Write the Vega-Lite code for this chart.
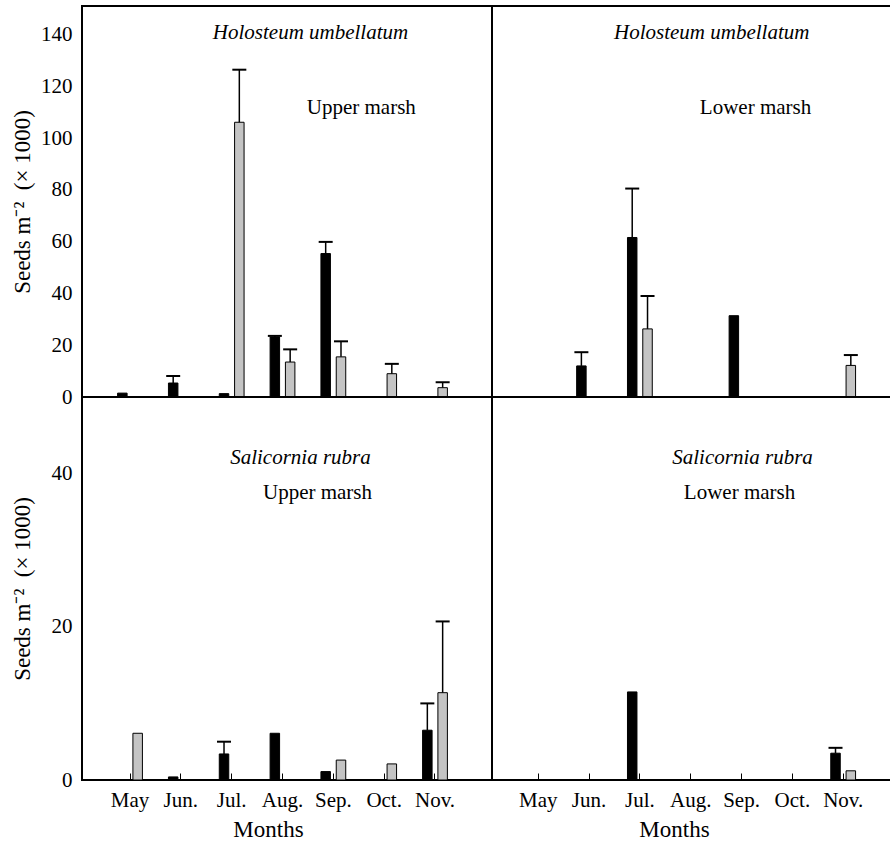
{
  "$schema": "https://vega.github.io/schema/vega-lite/v6.json",
  "padding": {"left": 10, "top": 5, "right": 0, "bottom": 0},
  "background": "white",
  "config": {
    "font": "Liberation Serif",
    "view": {"stroke": "black", "strokeWidth": 2},
    "axis": {"labelFont": "Liberation Serif", "titleFont": "Liberation Serif", "labelColor": "black", "titleColor": "black", "grid": false, "domain": false, "labelFontSize": 21, "titleFontSize": 23, "titleFontWeight": "normal"},
    "text": {"font": "Liberation Serif", "fontSize": 21, "color": "black", "baseline": "middle"}
  },
  "datasets": {
    "seeds": [
      {"species": "Holosteum umbellatum", "marsh": "Upper marsh", "month": "May", "group": "a", "mean": 1.5},
      {"species": "Holosteum umbellatum", "marsh": "Upper marsh", "month": "Jun.", "group": "a", "mean": 5.4, "upper": 8.1},
      {"species": "Holosteum umbellatum", "marsh": "Upper marsh", "month": "Jul.", "group": "a", "mean": 1.3},
      {"species": "Holosteum umbellatum", "marsh": "Upper marsh", "month": "Jul.", "group": "b", "mean": 106.1, "upper": 126.4},
      {"species": "Holosteum umbellatum", "marsh": "Upper marsh", "month": "Aug.", "group": "a", "mean": 23.2, "upper": 23.6},
      {"species": "Holosteum umbellatum", "marsh": "Upper marsh", "month": "Aug.", "group": "b", "mean": 13.5, "upper": 18.4},
      {"species": "Holosteum umbellatum", "marsh": "Upper marsh", "month": "Sep.", "group": "a", "mean": 55.4, "upper": 59.9},
      {"species": "Holosteum umbellatum", "marsh": "Upper marsh", "month": "Sep.", "group": "b", "mean": 15.5, "upper": 21.5},
      {"species": "Holosteum umbellatum", "marsh": "Upper marsh", "month": "Oct.", "group": "b", "mean": 9.0, "upper": 12.8},
      {"species": "Holosteum umbellatum", "marsh": "Upper marsh", "month": "Nov.", "group": "b", "mean": 3.6, "upper": 5.7},
      {"species": "Holosteum umbellatum", "marsh": "Lower marsh", "month": "Jun.", "group": "a", "mean": 12.0, "upper": 17.3},
      {"species": "Holosteum umbellatum", "marsh": "Lower marsh", "month": "Jul.", "group": "a", "mean": 61.6, "upper": 80.5},
      {"species": "Holosteum umbellatum", "marsh": "Lower marsh", "month": "Jul.", "group": "b", "mean": 26.3, "upper": 39.0},
      {"species": "Holosteum umbellatum", "marsh": "Lower marsh", "month": "Sep.", "group": "a", "mean": 31.4},
      {"species": "Holosteum umbellatum", "marsh": "Lower marsh", "month": "Nov.", "group": "b", "mean": 12.2, "upper": 16.2},
      {"species": "Salicornia rubra", "marsh": "Upper marsh", "month": "May", "group": "b", "mean": 6.1},
      {"species": "Salicornia rubra", "marsh": "Upper marsh", "month": "Jun.", "group": "a", "mean": 0.4},
      {"species": "Salicornia rubra", "marsh": "Upper marsh", "month": "Jul.", "group": "a", "mean": 3.4, "upper": 5.0},
      {"species": "Salicornia rubra", "marsh": "Upper marsh", "month": "Aug.", "group": "a", "mean": 6.1},
      {"species": "Salicornia rubra", "marsh": "Upper marsh", "month": "Sep.", "group": "a", "mean": 1.1},
      {"species": "Salicornia rubra", "marsh": "Upper marsh", "month": "Sep.", "group": "b", "mean": 2.6},
      {"species": "Salicornia rubra", "marsh": "Upper marsh", "month": "Oct.", "group": "b", "mean": 2.1},
      {"species": "Salicornia rubra", "marsh": "Upper marsh", "month": "Nov.", "group": "a", "mean": 6.5, "upper": 10.0},
      {"species": "Salicornia rubra", "marsh": "Upper marsh", "month": "Nov.", "group": "b", "mean": 11.4, "upper": 20.7},
      {"species": "Salicornia rubra", "marsh": "Lower marsh", "month": "Jul.", "group": "a", "mean": 11.5},
      {"species": "Salicornia rubra", "marsh": "Lower marsh", "month": "Nov.", "group": "a", "mean": 3.5, "upper": 4.2},
      {"species": "Salicornia rubra", "marsh": "Lower marsh", "month": "Nov.", "group": "b", "mean": 1.2}
    ],
    "notes": [
      {"species": "Holosteum umbellatum", "marsh": "Upper marsh", "part": "name", "label": "Holosteum umbellatum", "month": "Aug.", "value": 140.6},
      {"species": "Holosteum umbellatum", "marsh": "Upper marsh", "part": "site", "label": "Upper marsh", "month": "Sep.", "value": 111.6},
      {"species": "Holosteum umbellatum", "marsh": "Lower marsh", "part": "name", "label": "Holosteum umbellatum", "month": "Aug.", "value": 140.6},
      {"species": "Holosteum umbellatum", "marsh": "Lower marsh", "part": "site", "label": "Lower marsh", "month": "Sep.", "value": 111.6},
      {"species": "Salicornia rubra", "marsh": "Upper marsh", "part": "name", "label": "Salicornia rubra", "month": "Aug.", "value": 42.0},
      {"species": "Salicornia rubra", "marsh": "Upper marsh", "part": "site", "label": "Upper marsh", "month": "Aug.", "value": 37.5},
      {"species": "Salicornia rubra", "marsh": "Lower marsh", "part": "name", "label": "Salicornia rubra", "month": "Sep.", "value": 42.0},
      {"species": "Salicornia rubra", "marsh": "Lower marsh", "part": "site", "label": "Lower marsh", "month": "Sep.", "value": 37.5}
    ]
  },
  "columns": 2,
  "spacing": 0,
  "bounds": "flush",
  "align": "each",
  "concat": [
    {
      "width": 410, "height": 391,
      "layer": [
        {
          "data": {"name": "seeds"},
          "transform": [{"filter": "datum.species === 'Holosteum umbellatum' && datum.marsh === 'Upper marsh'"}],
          "mark": {"type": "bar", "stroke": "black", "strokeWidth": 1},
          "encoding": {
            "x": {"field": "month", "type": "nominal", "scale": {"domain": ["May", "Jun.", "Jul.", "Aug.", "Sep.", "Oct.", "Nov."], "paddingInner": 0, "paddingOuter": 0.533, "align": 0.417}, "axis": null},
            "xOffset": {"field": "group", "type": "nominal", "scale": {"domain": ["a", "b"], "paddingInner": 0.38, "paddingOuter": 0.85}},
            "y": {"field": "mean", "type": "quantitative", "scale": {"domain": [0, 151], "nice": false}, "axis": {"title": "Seeds m⁻²\u00a0 (× 1000)", "labelFont": "Liberation Serif", "titleFont": "Liberation Serif", "labelFontSize": 21, "titleFontSize": 23, "values": [0, 20, 40, 60, 80, 100, 120, 140], "ticks": false, "labelPadding": 10, "minExtent": 42, "maxExtent": 42, "titlePadding": 6}},
            "fill": {"field": "group", "type": "nominal", "scale": {"domain": ["a", "b"], "range": ["black", "#c4c4c4"]}, "legend": null}
          }
        },
        {
          "data": {"name": "seeds"},
          "transform": [{"filter": "datum.species === 'Holosteum umbellatum' && datum.marsh === 'Upper marsh' && isValid(datum.upper)"}],
          "mark": {"type": "rule", "color": "black", "strokeWidth": 1.5},
          "encoding": {
            "x": {"field": "month", "type": "nominal"},
            "xOffset": {"field": "group", "type": "nominal"},
            "y": {"field": "mean", "type": "quantitative"},
            "y2": {"field": "upper"}
          }
        },
        {
          "data": {"name": "seeds"},
          "transform": [{"filter": "datum.species === 'Holosteum umbellatum' && datum.marsh === 'Upper marsh' && isValid(datum.upper)"}],
          "mark": {"type": "tick", "orient": "horizontal", "size": 14, "thickness": 2, "color": "black", "opacity": 1},
          "encoding": {
            "x": {"field": "month", "type": "nominal"},
            "xOffset": {"field": "group", "type": "nominal"},
            "y": {"field": "upper", "type": "quantitative"}
          }
        },
        {
          "data": {"name": "notes"},
          "transform": [{"filter": "datum.species === 'Holosteum umbellatum' && datum.marsh === 'Upper marsh' && datum.part === 'name'"}],
          "mark": {"type": "text", "fontStyle": "italic", "dx": 28},
          "encoding": {"x": {"field": "month", "type": "nominal"}, "y": {"field": "value", "type": "quantitative"}, "text": {"field": "label"}}
        },
        {
          "data": {"name": "notes"},
          "transform": [{"filter": "datum.species === 'Holosteum umbellatum' && datum.marsh === 'Upper marsh' && datum.part === 'site'"}],
          "mark": {"type": "text", "dx": 28},
          "encoding": {"x": {"field": "month", "type": "nominal"}, "y": {"field": "value", "type": "quantitative"}, "text": {"field": "label"}}
        }
      ]
    },
    {
      "width": 401, "height": 391,
      "layer": [
        {
          "data": {"name": "seeds"},
          "transform": [{"filter": "datum.species === 'Holosteum umbellatum' && datum.marsh === 'Lower marsh'"}],
          "mark": {"type": "bar", "stroke": "black", "strokeWidth": 1},
          "encoding": {
            "x": {"field": "month", "type": "nominal", "scale": {"domain": ["May", "Jun.", "Jul.", "Aug.", "Sep.", "Oct.", "Nov."], "paddingInner": 0, "paddingOuter": 0.445, "align": 0.46}, "axis": null},
            "xOffset": {"field": "group", "type": "nominal", "scale": {"domain": ["a", "b"], "paddingInner": 0.38, "paddingOuter": 0.85}},
            "y": {"field": "mean", "type": "quantitative", "scale": {"domain": [0, 151], "nice": false}, "axis": null},
            "fill": {"field": "group", "type": "nominal", "scale": {"domain": ["a", "b"], "range": ["black", "#c4c4c4"]}, "legend": null}
          }
        },
        {
          "data": {"name": "seeds"},
          "transform": [{"filter": "datum.species === 'Holosteum umbellatum' && datum.marsh === 'Lower marsh' && isValid(datum.upper)"}],
          "mark": {"type": "rule", "color": "black", "strokeWidth": 1.5},
          "encoding": {
            "x": {"field": "month", "type": "nominal"},
            "xOffset": {"field": "group", "type": "nominal"},
            "y": {"field": "mean", "type": "quantitative"},
            "y2": {"field": "upper"}
          }
        },
        {
          "data": {"name": "seeds"},
          "transform": [{"filter": "datum.species === 'Holosteum umbellatum' && datum.marsh === 'Lower marsh' && isValid(datum.upper)"}],
          "mark": {"type": "tick", "orient": "horizontal", "size": 14, "thickness": 2, "color": "black", "opacity": 1},
          "encoding": {
            "x": {"field": "month", "type": "nominal"},
            "xOffset": {"field": "group", "type": "nominal"},
            "y": {"field": "upper", "type": "quantitative"}
          }
        },
        {
          "data": {"name": "notes"},
          "transform": [{"filter": "datum.species === 'Holosteum umbellatum' && datum.marsh === 'Lower marsh' && datum.part === 'name'"}],
          "mark": {"type": "text", "fontStyle": "italic", "dx": 21},
          "encoding": {"x": {"field": "month", "type": "nominal"}, "y": {"field": "value", "type": "quantitative"}, "text": {"field": "label"}}
        },
        {
          "data": {"name": "notes"},
          "transform": [{"filter": "datum.species === 'Holosteum umbellatum' && datum.marsh === 'Lower marsh' && datum.part === 'site'"}],
          "mark": {"type": "text", "dx": 14},
          "encoding": {"x": {"field": "month", "type": "nominal"}, "y": {"field": "value", "type": "quantitative"}, "text": {"field": "label"}}
        }
      ]
    },
    {
      "width": 410, "height": 383,
      "layer": [
        {
          "data": {"name": "seeds"},
          "transform": [{"filter": "datum.species === 'Salicornia rubra' && datum.marsh === 'Upper marsh'"}],
          "mark": {"type": "bar", "stroke": "black", "strokeWidth": 1},
          "encoding": {
            "x": {"field": "month", "type": "nominal", "scale": {"domain": ["May", "Jun.", "Jul.", "Aug.", "Sep.", "Oct.", "Nov."], "paddingInner": 0, "paddingOuter": 0.533, "align": 0.417}, "axis": {"title": "Months", "labelFont": "Liberation Serif", "titleFont": "Liberation Serif", "labelAngle": 0, "labelFontSize": 21, "titleFontSize": 23, "tickSize": -7, "tickColor": "black", "tickWidth": 1, "labelPadding": 16, "titlePadding": 8, "titleX": 186}},
            "xOffset": {"field": "group", "type": "nominal", "scale": {"domain": ["a", "b"], "paddingInner": 0.38, "paddingOuter": 0.85}},
            "y": {"field": "mean", "type": "quantitative", "scale": {"domain": [0, 50], "nice": false}, "axis": {"title": "Seeds m⁻²\u00a0 (× 1000)", "labelFont": "Liberation Serif", "titleFont": "Liberation Serif", "labelFontSize": 21, "titleFontSize": 23, "values": [0, 20, 40], "ticks": false, "labelPadding": 10, "minExtent": 42, "maxExtent": 42, "titlePadding": 6}},
            "fill": {"field": "group", "type": "nominal", "scale": {"domain": ["a", "b"], "range": ["black", "#c4c4c4"]}, "legend": null}
          }
        },
        {
          "data": {"name": "seeds"},
          "transform": [{"filter": "datum.species === 'Salicornia rubra' && datum.marsh === 'Upper marsh' && isValid(datum.upper)"}],
          "mark": {"type": "rule", "color": "black", "strokeWidth": 1.5},
          "encoding": {
            "x": {"field": "month", "type": "nominal"},
            "xOffset": {"field": "group", "type": "nominal"},
            "y": {"field": "mean", "type": "quantitative"},
            "y2": {"field": "upper"}
          }
        },
        {
          "data": {"name": "seeds"},
          "transform": [{"filter": "datum.species === 'Salicornia rubra' && datum.marsh === 'Upper marsh' && isValid(datum.upper)"}],
          "mark": {"type": "tick", "orient": "horizontal", "size": 14, "thickness": 2, "color": "black", "opacity": 1},
          "encoding": {
            "x": {"field": "month", "type": "nominal"},
            "xOffset": {"field": "group", "type": "nominal"},
            "y": {"field": "upper", "type": "quantitative"}
          }
        },
        {
          "data": {"name": "notes"},
          "transform": [{"filter": "datum.species === 'Salicornia rubra' && datum.marsh === 'Upper marsh' && datum.part === 'name'"}],
          "mark": {"type": "text", "fontStyle": "italic", "dx": 18},
          "encoding": {"x": {"field": "month", "type": "nominal"}, "y": {"field": "value", "type": "quantitative"}, "text": {"field": "label"}}
        },
        {
          "data": {"name": "notes"},
          "transform": [{"filter": "datum.species === 'Salicornia rubra' && datum.marsh === 'Upper marsh' && datum.part === 'site'"}],
          "mark": {"type": "text", "dx": 35},
          "encoding": {"x": {"field": "month", "type": "nominal"}, "y": {"field": "value", "type": "quantitative"}, "text": {"field": "label"}}
        }
      ]
    },
    {
      "width": 401, "height": 383,
      "layer": [
        {
          "data": {"name": "seeds"},
          "transform": [{"filter": "datum.species === 'Salicornia rubra' && datum.marsh === 'Lower marsh'"}],
          "mark": {"type": "bar", "stroke": "black", "strokeWidth": 1},
          "encoding": {
            "x": {"field": "month", "type": "nominal", "scale": {"domain": ["May", "Jun.", "Jul.", "Aug.", "Sep.", "Oct.", "Nov."], "paddingInner": 0, "paddingOuter": 0.445, "align": 0.46}, "axis": {"title": "Months", "labelFont": "Liberation Serif", "titleFont": "Liberation Serif", "labelAngle": 0, "labelFontSize": 21, "titleFontSize": 23, "tickSize": -7, "tickColor": "black", "tickWidth": 1, "labelPadding": 16, "titlePadding": 8, "titleX": 182}},
            "xOffset": {"field": "group", "type": "nominal", "scale": {"domain": ["a", "b"], "paddingInner": 0.38, "paddingOuter": 0.85}},
            "y": {"field": "mean", "type": "quantitative", "scale": {"domain": [0, 50], "nice": false}, "axis": null},
            "fill": {"field": "group", "type": "nominal", "scale": {"domain": ["a", "b"], "range": ["black", "#c4c4c4"]}, "legend": null}
          }
        },
        {
          "data": {"name": "seeds"},
          "transform": [{"filter": "datum.species === 'Salicornia rubra' && datum.marsh === 'Lower marsh' && isValid(datum.upper)"}],
          "mark": {"type": "rule", "color": "black", "strokeWidth": 1.5},
          "encoding": {
            "x": {"field": "month", "type": "nominal"},
            "xOffset": {"field": "group", "type": "nominal"},
            "y": {"field": "mean", "type": "quantitative"},
            "y2": {"field": "upper"}
          }
        },
        {
          "data": {"name": "seeds"},
          "transform": [{"filter": "datum.species === 'Salicornia rubra' && datum.marsh === 'Lower marsh' && isValid(datum.upper)"}],
          "mark": {"type": "tick", "orient": "horizontal", "size": 14, "thickness": 2, "color": "black", "opacity": 1},
          "encoding": {
            "x": {"field": "month", "type": "nominal"},
            "xOffset": {"field": "group", "type": "nominal"},
            "y": {"field": "upper", "type": "quantitative"}
          }
        },
        {
          "data": {"name": "notes"},
          "transform": [{"filter": "datum.species === 'Salicornia rubra' && datum.marsh === 'Lower marsh' && datum.part === 'name'"}],
          "mark": {"type": "text", "fontStyle": "italic", "dx": 1},
          "encoding": {"x": {"field": "month", "type": "nominal"}, "y": {"field": "value", "type": "quantitative"}, "text": {"field": "label"}}
        },
        {
          "data": {"name": "notes"},
          "transform": [{"filter": "datum.species === 'Salicornia rubra' && datum.marsh === 'Lower marsh' && datum.part === 'site'"}],
          "mark": {"type": "text", "dx": -2},
          "encoding": {"x": {"field": "month", "type": "nominal"}, "y": {"field": "value", "type": "quantitative"}, "text": {"field": "label"}}
        }
      ]
    }
  ]
}
